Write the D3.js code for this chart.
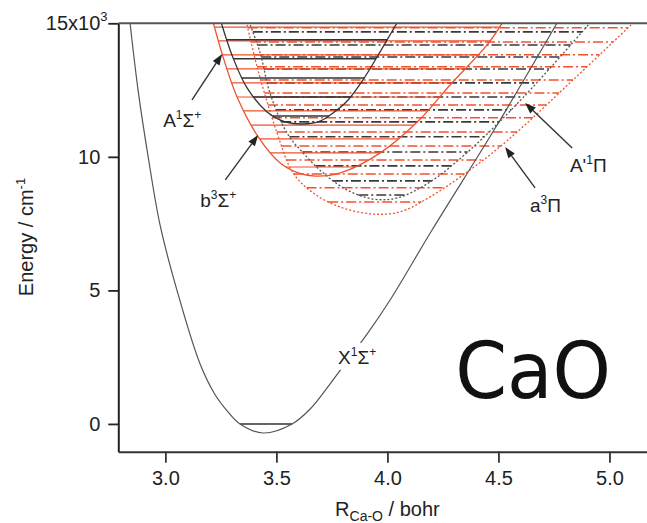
<!DOCTYPE html>
<html>
<head>
<meta charset="utf-8">
<script src="https://cdn.jsdelivr.net/npm/d3@7"></script>
<style>
  html, body { margin: 0; padding: 0; background: #fff; }
  svg { display: block; font-family: "Liberation Sans", Arial, sans-serif; }
</style>
</head>
<body>
<svg id="chart" width="647" height="523"></svg>
<script>
// CaO potential energy curves: bond length R (bohr) and energy E (10^3 cm^-1)

// X 1Sigma+ ground state
const xStateR = [2.841, 2.877, 2.922, 2.976, 3.053, 3.156, 3.224, 3.282, 3.336, 3.440, 3.571, 3.652, 3.742, 3.832, 3.909, 4.012, 4.201, 4.494, 4.764];
const xStateE = [15.01, 12.50, 10.03, 7.45, 4.98, 2.25, 1.09, 0.45, 0.00, -0.34, 0.00, 0.56, 1.50, 2.51, 3.37, 4.64, 7.26, 11.19, 15.01];
const xStateLevels = [0];

// A 1Sigma+
const aSigmaR = [3.252, 3.305, 3.368, 3.458, 3.539, 3.620, 3.697, 3.755, 3.823, 3.890, 3.967, 4.043];
const aSigmaE = [15.01, 13.70, 12.58, 11.68, 11.31, 11.23, 11.34, 11.64, 12.13, 12.88, 13.93, 15.01];
const aSigmaLevels = [11.53, 12.24, 12.95, 13.67, 14.38];

// b 3Sigma+
const bSigmaR = [3.216, 3.264, 3.323, 3.418, 3.517, 3.598, 3.675, 3.788, 3.968, 4.139, 4.282, 4.449, 4.517];
const bSigmaE = [15.01, 13.63, 12.24, 10.75, 9.77, 9.40, 9.28, 9.40, 10.15, 11.34, 12.69, 14.19, 15.01];
const bSigmaLevels = [9.62, 10.15, 10.67, 11.19, 11.72, 12.24, 12.77, 13.29, 13.82, 14.34, 14.86];

// a 3Pi
const aPiR = [3.368, 3.413, 3.503, 3.575, 3.665, 3.787, 3.935, 4.057, 4.192, 4.372, 4.539, 4.836, 5.106];
const aPiE = [14.94, 13.37, 10.89, 9.40, 8.65, 8.12, 7.86, 7.94, 8.50, 9.51, 10.60, 12.88, 15.01];
const aPiLevels = [8.31, 8.84, 9.36, 9.88, 10.41, 10.93, 11.46, 11.94, 12.39, 12.88, 13.37, 13.82, 14.30, 14.83];

// A' 1Pi
const aPrimePiR = [3.382, 3.427, 3.471, 3.548, 3.620, 3.710, 3.818, 3.935, 4.043, 4.192, 4.372, 4.610, 4.912];
const aPrimePiE = [14.94, 13.89, 12.39, 10.89, 10.15, 9.40, 8.76, 8.42, 8.46, 9.06, 10.26, 12.21, 15.01];
const aPrimePiLevels = [8.57, 9.10, 9.66, 10.18, 10.75, 11.31, 11.76, 12.24, 12.77, 13.29, 13.74, 14.19, 14.68];

// Axis ticks
const xTicks = [3.0, 3.5, 4.0, 4.5, 5.0];
const yTicks = [0, 5, 10, 15];

// State labels: letter, spin multiplicity, term symbol, parity sign; anchor (R, E)
const labelNames = ["A", "b", "A'", "a", "X"];
const labelMult  = ["1", "3", "1", "3", "1"];
const labelTerm  = ["Σ", "Σ", "Π", "Π", "Σ"];
const labelSign  = ["+", "+", "", "", "+"];
const labelR     = [2.990, 3.157, 4.822, 4.642, 3.778];
const labelE     = [11.12, 8.12, 9.43, 7.94, 2.25];

// Arrows from label to curve: start (R, E) -> tip (R, E)
const arrowFromR = [3.120, 3.270, 4.832, 4.665];
const arrowFromE = [12.13, 9.14, 10.33, 8.84];
const arrowToR   = [3.256, 3.418, 4.620, 4.530];
const arrowToE   = [13.85, 10.82, 12.02, 10.37];

const RED = "#f2512d";
const DARK = "#3a3a3a";

const svg = d3.select("#chart");
const x = d3.scaleLinear().domain([2.788, 5.17]).range([118.3, 647.2]);
const y = d3.scaleLinear().domain([-1.04, 15]).range([451.7, 23.3]);

svg.append("defs").append("clipPath").attr("id", "plotClip")
  .append("rect")
  .attr("x", x(2.788)).attr("y", y(15))
  .attr("width", x(5.17) - x(2.788)).attr("height", y(-1.04) - y(15));

const plot = svg.append("g").attr("clip-path", "url(#plotClip)");
const gLevels = plot.append("g");
const gCurves = plot.append("g");

const line = d3.line().x(d => x(d[0])).y(d => y(d[1])).curve(d3.curveCatmullRom.alpha(0.5));

function zip(rs, es) { return rs.map((r, i) => [r, es[i]]); }

// Draw a potential curve, then its vibrational levels between the turning points
function drawState(rs, es, levels, curveStyle, levelStyle) {
  const path = gCurves.append("path")
    .datum(zip(rs, es))
    .attr("d", line)
    .attr("fill", "none")
    .attr("stroke", curveStyle.color)
    .attr("stroke-width", curveStyle.width)
    .attr("stroke-dasharray", curveStyle.dash || null);

  const node = path.node();
  const len = node.getTotalLength();
  const pts = [];
  for (let s = 0; s <= len; s += 0.5) pts.push(node.getPointAtLength(s));
  const iMin = d3.maxIndex(pts, p => p.y);
  const leftBranch = pts.slice(0, iMin + 1);
  const rightBranch = pts.slice(iMin);

  function cross(branch, yp) {
    for (let i = 0; i < branch.length - 1; i++) {
      const a = branch[i], b = branch[i + 1];
      if ((a.y - yp) * (b.y - yp) <= 0 && a.y !== b.y) {
        return a.x + (b.x - a.x) * (yp - a.y) / (b.y - a.y);
      }
    }
    return null;
  }

  levels.forEach(E => {
    const yp = y(E);
    const xl = cross(leftBranch, yp);
    const xr = cross(rightBranch, yp);
    if (xl === null || xr === null) return;
    gLevels.append("line")
      .attr("x1", xl).attr("x2", xr)
      .attr("y1", yp).attr("y2", yp)
      .attr("stroke", levelStyle.color)
      .attr("stroke-width", levelStyle.width)
      .attr("stroke-dasharray", levelStyle.dash || null);
  });
}

const dashDot = "10,3,2,3";
drawState(aPiR, aPiE, aPiLevels,
  { color: RED, width: 1.3, dash: "2,2" }, { color: RED, width: 1.5, dash: dashDot });
drawState(aPrimePiR, aPrimePiE, aPrimePiLevels,
  { color: "#555", width: 1.3, dash: "2,2" }, { color: DARK, width: 1.6, dash: dashDot });
drawState(bSigmaR, bSigmaE, bSigmaLevels,
  { color: RED, width: 1.3 }, { color: RED, width: 1.2 });
drawState(aSigmaR, aSigmaE, aSigmaLevels,
  { color: "#333", width: 1.3 }, { color: "#333", width: 1.5 });
drawState(xStateR, xStateE, xStateLevels,
  { color: "#555", width: 1.2 }, { color: "#333", width: 1.5 });

// Axes
const yAxis = svg.append("g")
  .attr("transform", `translate(${x(2.788)},0)`)
  .call(d3.axisLeft(y).tickValues(yTicks).tickSize(10).tickPadding(8).tickSizeOuter(0)
    .tickFormat(d => d === 15 ? "15x10" : d3.format("d")(d)));
yAxis.select(".domain").attr("stroke", "#222").attr("stroke-width", 2);
yAxis.selectAll(".tick line").attr("stroke", "#222").attr("stroke-width", 1.8);
yAxis.selectAll(".tick text").attr("font-size", 20).attr("fill", "#222")
  .attr("font-family", "Liberation Sans, Arial, sans-serif");
yAxis.selectAll(".tick").filter(d => d === 15).append("text")
  .attr("x", -18).attr("y", -3)
  .attr("text-anchor", "start")
  .attr("font-size", 13).attr("fill", "#222")
  .text("3");

const xAxis = svg.append("g")
  .attr("transform", `translate(0,${y(-1.04)})`)
  .call(d3.axisBottom(x).tickValues(xTicks).tickSize(11).tickPadding(8).tickSizeOuter(0)
    .tickFormat(d3.format(".1f")));
xAxis.select(".domain").attr("stroke", "#333").attr("stroke-width", 2);
xAxis.selectAll(".tick line").attr("stroke", "#333").attr("stroke-width", 1.8);
xAxis.selectAll(".tick text").attr("font-size", 20).attr("fill", "#222")
  .attr("font-family", "Liberation Sans, Arial, sans-serif");

// Top frame line
svg.append("line")
  .attr("x1", x(2.788)).attr("x2", x(5.17))
  .attr("y1", y(15)).attr("y2", y(15))
  .attr("stroke", "#555").attr("stroke-width", 2);

// Axis titles
const yTitle = svg.append("text")
  .attr("transform", "translate(33,237) rotate(-90)")
  .attr("text-anchor", "middle").attr("font-size", 20).attr("fill", "#222");
yTitle.append("tspan").text("Energy / cm");
yTitle.append("tspan").attr("dy", -8).attr("font-size", 13).text("-1");

const xTitle = svg.append("text")
  .attr("x", x(4.0)).attr("y", 516)
  .attr("text-anchor", "middle").attr("font-size", 20).attr("fill", "#222");
xTitle.append("tspan").text("R");
xTitle.append("tspan").attr("dy", 5).attr("font-size", 14).text("Ca-O");
xTitle.append("tspan").attr("dy", -5).text(" / bohr");

// Arrows
const gArrows = svg.append("g");
arrowFromR.forEach((r0, i) => {
  const x0 = x(r0), y0 = y(arrowFromE[i]);
  const x1 = x(arrowToR[i]), y1 = y(arrowToE[i]);
  const ang = Math.atan2(y1 - y0, x1 - x0);
  const headL = 11, headW = 4;
  const bx = x1 - headL * Math.cos(ang), by = y1 - headL * Math.sin(ang);
  gArrows.append("line")
    .attr("x1", x0).attr("y1", y0).attr("x2", bx).attr("y2", by)
    .attr("stroke", "#333").attr("stroke-width", 1.4);
  gArrows.append("path")
    .attr("d", `M${x1},${y1}L${bx + headW * Math.sin(ang)},${by - headW * Math.cos(ang)}L${bx - headW * Math.sin(ang)},${by + headW * Math.cos(ang)}Z`)
    .attr("fill", "#222");
});

// State labels
const gLabels = svg.append("g");
labelNames.forEach((name, i) => {
  const g = gLabels.append("g");
  const t = g.append("text")
    .attr("x", x(labelR[i])).attr("y", y(labelE[i]))
    .attr("font-size", 19).attr("fill", "#222");
  t.append("tspan").text(name);
  t.append("tspan").attr("dy", -8).attr("font-size", 12).text(labelMult[i]);
  t.append("tspan").attr("dy", 8).text(labelTerm[i]);
  if (labelSign[i]) t.append("tspan").attr("dy", -8).attr("font-size", 12).text(labelSign[i]);
  if (name === "X") {
    const bb = t.node().getBBox();
    g.insert("rect", "text")
      .attr("x", bb.x - 3).attr("y", bb.y - 2)
      .attr("width", bb.width + 6).attr("height", bb.height + 4)
      .attr("fill", "#fff");
  }
});

// Molecule name
svg.append("text")
  .attr("transform", `translate(${x(4.305)},${y(0.97)}) scale(0.94,1)`)
  .attr("font-family", "DejaVu Sans, Verdana, sans-serif")
  .attr("font-size", 79).attr("fill", "#111")
  .text("CaO");
</script>
</body>
</html>
